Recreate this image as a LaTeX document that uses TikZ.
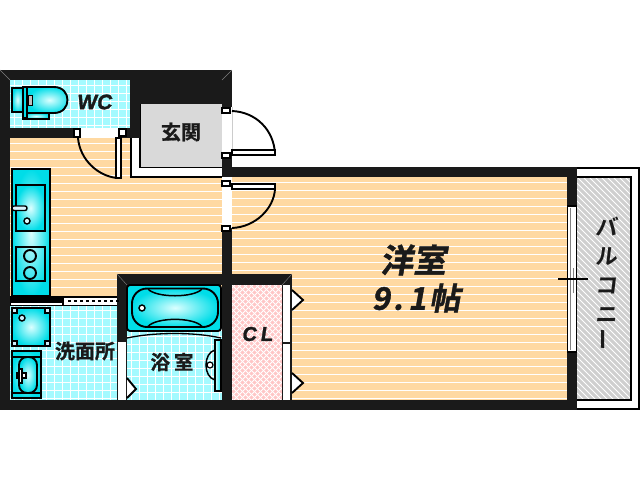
\documentclass[tikz,border=0pt]{standalone}
\usepackage{fontspec}
\newfontfamily\jpb[FakeSlant=0.18,FakeBold=1.2]{Noto Sans CJK JP Bold}
\newfontfamily\jpu[FakeBold=1]{Noto Sans CJK JP Bold}
\newfontfamily\jpv[FakeSlant=0.12]{Noto Sans CJK JP Bold}
\newfontfamily\latb[FakeSlant=0.15,FakeBold=1.5]{Liberation Sans Bold}
\definecolor{wall}{HTML}{1A1A1A}
\definecolor{tan}{HTML}{FFD9A2}
\definecolor{tile}{HTML}{A4FAFF}
\definecolor{cy}{HTML}{00DDE8}
\definecolor{cyl}{HTML}{DCFFFF}
\definecolor{pinkb}{HTML}{FFC6C6}
\definecolor{grayb}{HTML}{CFCFCF}
\definecolor{entry}{HTML}{D9D9D9}
\tikzset{
  wallf/.style={fill=wall,draw=none},
  ol/.style={draw=black,line width=1.9pt},
  fix/.style={ol,inner color=cyl,outer color=cy},
  leaf/.style={draw=black,line width=1.9pt,fill=white},
  thinw/.style={white,line width=1pt},
  label/.style={text=wall,inner sep=0pt},
  corner/.style={draw=gray,line width=0.4pt}
}
\begin{document}
\begin{tikzpicture}[x=1pt,y=-1pt]
\useasboundingbox (0,0) rectangle (640,480);
% floors
\fill[tan] (10,138) rectangle (222,296);
\fill[tan] (232,177) rectangle (567,400);
\begin{scope}
\clip (10,138) rectangle (222,296);
\foreach \y in {143.5,151.5,...,295} \draw[thinw] (10,\y) -- (222,\y);
\end{scope}
\begin{scope}
\clip (232,177) rectangle (567,400);
\foreach \y in {182.5,190.5,...,400} \draw[thinw] (232,\y) -- (567,\y);
\end{scope}
% tile rooms
\fill[tile] (10,80) rectangle (130,128);
\fill[tile] (10,306) rectangle (117,400);
\fill[tile] (127,331) rectangle (222,400);
\begin{scope}
\clip (10,80) rectangle (130,128);
\foreach \x in {14.5,22.5,...,130} \draw[thinw] (\x,80) -- (\x,128);
\foreach \y in {85.5,93.5,...,128} \draw[thinw] (10,\y) -- (130,\y);
\end{scope}
\begin{scope}
\clip (10,306) rectangle (117,400);
\foreach \x in {14.5,22.5,...,117} \draw[thinw] (\x,306) -- (\x,400);
\foreach \y in {310.5,318.5,...,400} \draw[thinw] (10,\y) -- (117,\y);
\end{scope}
\begin{scope}
\clip (127,331) rectangle (222,400);
\foreach \x in {131.5,139.5,...,222} \draw[thinw] (\x,331) -- (\x,400);
\foreach \y in {336.5,344.5,...,400} \draw[thinw] (127,\y) -- (222,\y);
\end{scope}
% closet
\fill[pinkb] (232,285) rectangle (283,400);
\begin{scope}
\clip (232,285) rectangle (283,400);
\foreach \d in {-120,-114,...,120} {
  \draw[white,line width=0.9pt] (232+\d,285) -- (232+\d+115,400);
  \draw[white,line width=0.9pt] (283+\d,285) -- (283+\d-115,400);
}
\end{scope}
% balcony
\draw[black,line width=1.2pt,fill=white] (577,168) -- (639,168) -- (639,409) -- (577,409);
\fill[grayb] (577,177) rectangle (631,400);
\begin{scope}
\clip (577,177) rectangle (631,400);
\foreach \d in {-60,-54,...,230} \draw[white,line width=0.8pt] (577,177+\d) -- (631,177+\d+54);
\end{scope}
\draw[black,line width=1.6pt] (577,177) -- (631,177) -- (631,400) -- (577,400);
% entry
\fill[white] (131,138) rectangle (222,177);
\draw[black,line width=1.4pt] (131,138) -- (131,177) -- (222,177);
\fill[entry] (140,104) rectangle (222,167);
\draw[black,line width=1.9pt] (140,104) -- (140,167.5) -- (222,167.5);
% walls
\fill[wallf] (0,70) rectangle (232,80);
\fill[wallf] (0,70) rectangle (10,410);
\fill[wallf] (140,80) rectangle (222,104);
\fill[wallf] (130,80) rectangle (140,138);
\fill[wallf] (10,128) rectangle (78,138);
\fill[wallf] (118,128) rectangle (130,138);
\fill[wallf] (222,80) rectangle (232,107);
\fill[wallf] (222,155) rectangle (232,177);
\fill[wallf] (222,167) rectangle (577,177);
\fill[wallf] (567,167) rectangle (577,410);
\fill[wallf] (0,400) rectangle (577,410);
\fill[wallf] (222,228) rectangle (232,410);
\fill[wallf] (117,274) rectangle (292,285);
\fill[wallf] (117,274) rectangle (127,410);
\fill[wallf] (282,285) rectangle (292,410);
\fill[wallf] (0,296) rectangle (117,306);
% door openings
\fill[white] (78,128) rectangle (118,138);
\fill[white] (222,107) rectangle (232,155);
\fill[white] (222,180) rectangle (232,228);
\draw[gray!40,line width=0.5pt] (232,107) -- (232,155);
% corner mitres
\draw[corner] (0,70) -- (10,80);
\draw[corner] (232,70) -- (222,80);
\draw[corner] (117,274) -- (127,285);
\draw[corner] (292,274) -- (282,285);
% toilet door
\draw[black,line width=1.9pt] (78,138) .. controls (80,160) and (98,176) .. (117,178);
\draw[leaf] (116,138) rectangle (121,178);
\draw[leaf] (74,129) rectangle (80,137);
\draw[leaf] (119,129) rectangle (126,136);
% entrance door
\draw[black,line width=1.9pt] (232,111) .. controls (256,112) and (274,130) .. (275,154);
\draw[leaf] (232,150) rectangle (275,155);
\draw[leaf] (222,108) rectangle (230,113);
\draw[leaf] (222,153) rectangle (230,158);
% inner door
\draw[black,line width=1.9pt] (275,189) .. controls (274,208) and (256,227) .. (232,228);
\draw[leaf] (232,184) rectangle (275,189);
\draw[leaf] (222,181) rectangle (230,186);
\draw[leaf] (222,226) rectangle (230,231);
% toilet
\shade[fix] (27,87) -- (54,87) .. controls (72,87) and (72,113) .. (54,113) -- (27,113) -- cycle;
\shade[fix] (12,88) rectangle (23,112);
\shade[fix] (23,113) rectangle (49,119);
\draw[ol,fill=cy] (23,87) rectangle (27,118);
\draw[black,line width=1pt,fill=gray!50] (28,95) rectangle (32,105);
% kitchen
\shade[fix] (12,169) rectangle (50,296);
\shade[fix] (16,185) rectangle (45,231);
\draw[black,line width=1.4pt,fill=white!85!cyan,rounded corners=2pt] (12,206) rectangle (27,210.5);
\draw[black,line width=1.4pt,fill=cyl] (27,221) circle (3);
\draw[ol,fill=none] (16,247) rectangle (45,281);
\draw[ol,fill=none] (30,256) circle (6);
\draw[ol,fill=none] (30,273) circle (6);
% sliding partition
\fill[black] (10,296) rectangle (117,306);
\draw[draw=none,fill=white] (11,302.5) rectangle (62,305);
\fill[white] (64,298) rectangle (117,305);
\foreach \x in {68,74,...,116} \fill[black] (\x,300) rectangle +(3,2);
\fill[wallf] (0,296) rectangle (10,306);
% washer
\shade[fix] (12,308) rectangle (50,346);
\foreach \a/\b in {12/308,45/308,12/341,45/341} \draw[black,line width=1.3pt,fill=white!80!cyan] (\a,\b) rectangle +(5,5);
\draw[black,line width=1.4pt,fill=white!80!cyan] (22,318) circle (3);
% basin
\shade[fix] (12,351) rectangle (41,398);
\draw[black,line width=1.2pt] (12,357) -- (41,357) (12,393) -- (41,393);
\shade[fix,rounded corners=8pt] (19,357) rectangle (37,393);
\draw[black,line width=1.2pt,fill=white] (17,373) rectangle (26,378);
\draw[black,line width=1.2pt,fill=white] (19,369) rectangle (22,383);
% bath
\shade[ol,inner color=cyl,outer color=cy,rounded corners=3pt] (127,285) rectangle (221,331);
\shade[ol,inner color=cyl,outer color=cy,rounded corners=15pt] (132,288.5) rectangle (218,327);
\draw[black,line width=1.5pt] (148,289) .. controls (156,298) and (194,298) .. (202,289);
\draw[black,line width=1.5pt] (148,326.5) .. controls (156,317) and (194,317) .. (202,326.5);
\draw[black,line width=1.4pt,fill=white] (142,308) circle (3);
\draw[black,line width=1.3pt] (127,338) .. controls (155,332) and (195,332) .. (221,338);
% bathroom fittings
\shade[ol,left color=cyl,right color=cy] (215,340) rectangle (221,391);
\draw[black,line width=1.5pt] (215,350) .. controls (203,353) and (203,377) .. (215,380);
\draw[black,line width=1.2pt,fill=white] (210,365) circle (3);
% bathroom door
\fill[white] (118,342) rectangle (126,400);
\draw[leaf] (127,378) -- (136,389) -- (127,398);
% CL doors
\fill[white] (283,285) rectangle (290,342);
\fill[white] (283,344) rectangle (290,400);
\draw[leaf] (292,290) -- (303,300) -- (292,310);
\draw[leaf] (292,373) -- (303,383) -- (292,393);
% window
\draw[black,line width=1.9pt,fill=white] (567.5,206) rectangle (576.5,352);
\draw[gray,line width=0.7pt] (570,208) -- (570,350);
\draw[gray,line width=0.9pt] (573,268) -- (573,293);
\coordinate (winL) at (558,279);
\coordinate (winR) at (588,279);
\draw[black,line width=1.2pt] (winL) -- (winR);
% labels
\node[label,font=\latb\fontsize{21}{21}\selectfont] (wc) at (94,102) {WC};
\node[label,font=\jpu\fontsize{20}{20}\selectfont] (genkan) at (181,132) {玄関};
\node[label,font=\jpu\fontsize{20}{20}\selectfont] (senmen) at (85,351) {洗面所};
\node[label,font=\jpu\fontsize{19.5}{20}\selectfont] (yoku) at (172,362) {浴\hspace{4pt}室};
\node[label,font=\latb\fontsize{20}{20}\selectfont] (cl) at (257,334) {C\hspace{4pt}L};
\node[label,font=\jpb\fontsize{33}{33}\selectfont] (yoshitsu) at (413,260) {洋室};
\node[label,font=\jpb\fontsize{31}{32}\selectfont] (jo) at (416,298) {9\hspace{3pt}.\hspace{5pt}1\hspace{3pt}帖};
\node[label,align=center,font=\jpv\fontsize{22}{29}\selectfont] (balc) at (606,284) {バ\\ル\\コ\\ニ\\\rotatebox{90}{ー}};
\end{tikzpicture}
\end{document}
